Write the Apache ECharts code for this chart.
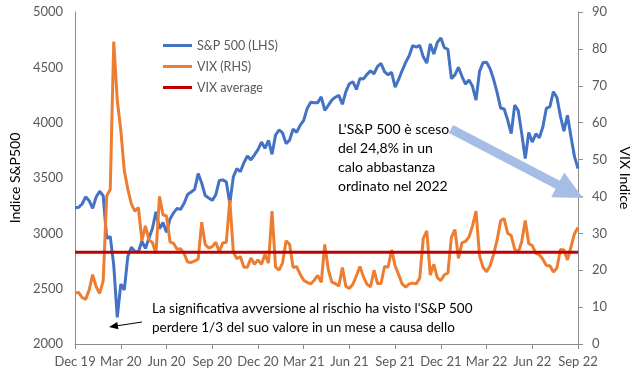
<!DOCTYPE html>
<html><head><meta charset="utf-8">
<script src="https://cdn.jsdelivr.net/npm/echarts@6/dist/echarts.min.js"></script>
<style>html,body{margin:0;padding:0;background:#fff}#c{width:640px;height:376px}</style>
</head><body><div id="c"></div>
<script>
const weeks = [
'2019-12-31',
'2020-01-03','2020-01-10','2020-01-17','2020-01-24','2020-01-31','2020-02-07','2020-02-14','2020-02-21','2020-02-28',
'2020-03-06','2020-03-13','2020-03-20','2020-03-27','2020-04-03','2020-04-09','2020-04-17','2020-04-24','2020-05-01',
'2020-05-08','2020-05-15','2020-05-22','2020-05-29','2020-06-05','2020-06-12','2020-06-19','2020-06-26','2020-07-02',
'2020-07-10','2020-07-17','2020-07-24','2020-07-31','2020-08-07','2020-08-14','2020-08-21','2020-08-28','2020-09-04',
'2020-09-11','2020-09-18','2020-09-25','2020-10-02','2020-10-09','2020-10-16','2020-10-23','2020-10-30','2020-11-06',
'2020-11-13','2020-11-20','2020-11-27','2020-12-04','2020-12-11','2020-12-18','2020-12-31',
'2021-01-08','2021-01-15','2021-01-22','2021-01-29','2021-02-05','2021-02-12','2021-02-19','2021-02-26','2021-03-05',
'2021-03-12','2021-03-19','2021-03-26','2021-04-01','2021-04-09','2021-04-16','2021-04-23','2021-04-30','2021-05-07',
'2021-05-14','2021-05-21','2021-05-28','2021-06-04','2021-06-11','2021-06-18','2021-06-25','2021-07-02','2021-07-09',
'2021-07-16','2021-07-23','2021-07-30','2021-08-06','2021-08-13','2021-08-20','2021-08-27','2021-09-03','2021-09-10',
'2021-09-17','2021-09-24','2021-10-01','2021-10-08','2021-10-15','2021-10-22','2021-10-29','2021-11-05','2021-11-12',
'2021-11-19','2021-11-26','2021-12-03','2021-12-10','2021-12-17','2021-12-23','2021-12-31',
'2022-01-07','2022-01-14','2022-01-21','2022-01-28','2022-02-04','2022-02-11','2022-02-18','2022-02-25','2022-03-04',
'2022-03-11','2022-03-18','2022-03-25','2022-04-01','2022-04-08','2022-04-14','2022-04-22','2022-04-29','2022-05-06',
'2022-05-13','2022-05-20','2022-05-27','2022-06-03','2022-06-10','2022-06-17','2022-06-24','2022-07-01','2022-07-08',
'2022-07-15','2022-07-22','2022-07-29','2022-08-05','2022-08-12','2022-08-19','2022-08-26','2022-09-02','2022-09-09',
'2022-09-16','2022-09-23','2022-09-30'
];

const sp500 = [
3231,
3235,3265,3330,3295,3226,3328,3380,3338,2954,
2972,2711,2240,2541,2489,2790,2875,2837,2831,
2930,2864,2955,3044,3194,3041,3098,3009,3130,
3185,3225,3216,3271,3351,3373,3397,3540,3455,
3341,3319,3298,3348,3477,3483,3465,3270,3510,
3585,3558,3638,3699,3663,3709,3756,
3825,3768,3841,3714,3887,3934,3907,3811,3842,
3943,3913,3975,4020,4129,4185,4180,4181,4233,
4110,4156,4204,4230,4247,4166,4281,4352,4370,
4300,4400,4395,4437,4468,4442,4509,4535,4459,
4433,4455,4320,4391,4471,4545,4605,4697,4683,
4698,4595,4538,4712,4620,4726,4766,
4677,4663,4398,4432,4500,4419,4349,4385,4329,
4204,4463,4543,4546,4488,4392,4272,4132,4123,
4024,3901,4158,4109,3901,3675,3912,3825,3899,
3863,3962,4130,4145,4280,4228,4058,3924,4067,
3873,3693,3586
];

const vix = [
13.8,
14.0,12.6,12.1,14.6,18.8,15.5,13.7,17.1,40.1,
41.9,82.0,66.0,58.0,47.0,42.0,38.0,36.0,37.0,
28.0,32.0,28.2,27.5,24.5,40.0,35.0,34.7,27.7,
27.3,25.7,25.8,24.5,22.2,22.1,22.5,23.0,33.0,
27.0,26.0,26.4,27.6,25.0,27.4,27.6,39.0,24.9,
23.1,23.7,20.8,20.8,23.3,21.6,22.8,
21.6,24.3,21.9,36.0,20.9,20.0,22.0,28.0,27.0,
20.7,21.0,18.9,17.3,16.7,16.3,17.3,18.6,16.7,
27.0,20.2,16.8,16.4,15.7,20.7,15.6,15.1,16.2,
18.5,21.0,18.2,16.2,15.5,20.0,16.4,16.4,21.0,
20.8,25.5,21.2,18.8,16.3,15.4,16.3,16.5,16.3,
17.9,28.6,30.7,18.7,21.6,18.0,17.2,
18.8,19.2,28.9,31.0,23.2,27.4,27.8,29.0,32.0,
36.0,23.9,20.8,19.6,21.2,24.3,28.2,33.4,34.0,
30.0,29.4,25.7,24.8,27.8,33.5,27.2,26.7,24.6,
24.2,23.0,21.3,21.2,19.5,20.6,25.6,25.5,22.8,
26.3,29.9,31.6
];

const vixAverage = 24.9;
const xTickLabels = ['Dec 19','Mar 20','Jun 20','Sep 20','Dec 20','Mar 21','Jun 21','Sep 21','Dec 21','Mar 22','Jun 22','Sep 22'];
const weeksPerTick = 13;

const FONT = 'Lato, "Liberation Sans", sans-serif';
const GRAY = '#595959';
const AXIS = '#8c8c8c';

const chart = echarts.init(document.getElementById('c'), null, {renderer: 'canvas'});
chart.setOption({
  animation: false,
  backgroundColor: '#fff',
  textStyle: {fontFamily: FONT},
  grid: {left: 65, right: 53, top: 12, bottom: 32, containLabel: false},
  legend: {
    data: ['S&P 500 (LHS)', 'VIX (RHS)', 'VIX average'],
    orient: 'vertical', left: 158, top: 34,
    icon: 'rect', itemWidth: 29, itemHeight: 3, itemGap: 8,
    textStyle: {color: GRAY, fontSize: 12.5, fontFamily: FONT}
  },
  xAxis: {
    type: 'category', data: weeks, boundaryGap: false,
    axisLine: {lineStyle: {color: AXIS, width: 1}},
    axisTick: {show: true, interval: weeksPerTick - 1, length: 5, lineStyle: {color: AXIS}},
    axisLabel: {interval: weeksPerTick - 1, color: GRAY, fontSize: 13, margin: 11, fontFamily: FONT,
      formatter: (v, i) => xTickLabels[Math.round(i / weeksPerTick)]},
    splitLine: {show: false}
  },
  yAxis: [{
    type: 'value', min: 2000, max: 5000, interval: 500, position: 'left',
    name: 'Indice S&P500', nameLocation: 'middle', nameGap: 44, nameRotate: 90,
    nameTextStyle: {color: '#000', fontSize: 14, fontFamily: FONT},
    axisLine: {show: true, lineStyle: {color: AXIS}},
    axisTick: {show: false},
    axisLabel: {color: GRAY, fontSize: 13, margin: 12, fontFamily: FONT, formatter: v => String(v)},
    splitLine: {show: false}
  }, {
    type: 'value', min: 0, max: 90, interval: 10, position: 'right',
    name: 'VIX Indice', nameLocation: 'middle', nameGap: 34, nameRotate: -90,
    nameTextStyle: {color: '#000', fontSize: 14, fontFamily: FONT},
    axisLine: {show: true, lineStyle: {color: AXIS}},
    axisTick: {show: true, length: 5, lineStyle: {color: AXIS}},
    axisLabel: {color: GRAY, fontSize: 13, margin: 14, fontFamily: FONT, formatter: v => String(v)},
    splitLine: {show: false}
  }],
  series: [{
    name: 'S&P 500 (LHS)', type: 'line', yAxisIndex: 0, data: sp500,
    showSymbol: false, lineStyle: {color: '#4472C4', width: 3}, itemStyle: {color: '#4472C4'}, z: 2
  }, {
    name: 'VIX (RHS)', type: 'line', yAxisIndex: 1, data: vix,
    showSymbol: false, lineStyle: {color: '#ED7D31', width: 3}, itemStyle: {color: '#ED7D31'}, z: 3
  }, {
    name: 'VIX average', type: 'line', yAxisIndex: 1,
    data: [[weeks[0], vixAverage], [weeks[weeks.length - 1], vixAverage]],
    showSymbol: false, lineStyle: {color: '#C00000', width: 3}, itemStyle: {color: '#C00000'}, z: 4
  }],
  graphic: [
    {type: 'text', left: 338, top: 120, z: 10, style: {
      text: "L'S&P 500 è sceso\ndel 24,8% in un\ncalo abbastanza\nordinato nel 2022",
      font: '14px ' + FONT, fill: '#000', lineHeight: 19}},
    {type: 'text', left: 152, top: 299, z: 10, style: {
      text: "La significativa avversione al rischio ha visto l'S&P 500\nperdere 1/3 del suo valore in un mese a causa dello",
      font: '13.5px ' + FONT, fill: '#000', lineHeight: 19}},
    {type: 'line', z: 10, shape: {x1: 142, y1: 322, x2: 117, y2: 325.8}, style: {stroke: '#000', lineWidth: 1}},
    {type: 'polygon', z: 10, shape: {points: [[109, 327], [118.4, 329.2], [117.3, 322.1]]}, style: {fill: '#000'}},
    {type: 'polygon', z: 10, shape: {points: [[453.1, 125.0], [559.8, 180.8], [564.2, 172.4], [583, 198], [551.2, 197.2], [555.6, 188.8], [448.9, 133.0]]},
      style: {fill: '#A6BEE6'}}
  ]
});
</script></body></html>
